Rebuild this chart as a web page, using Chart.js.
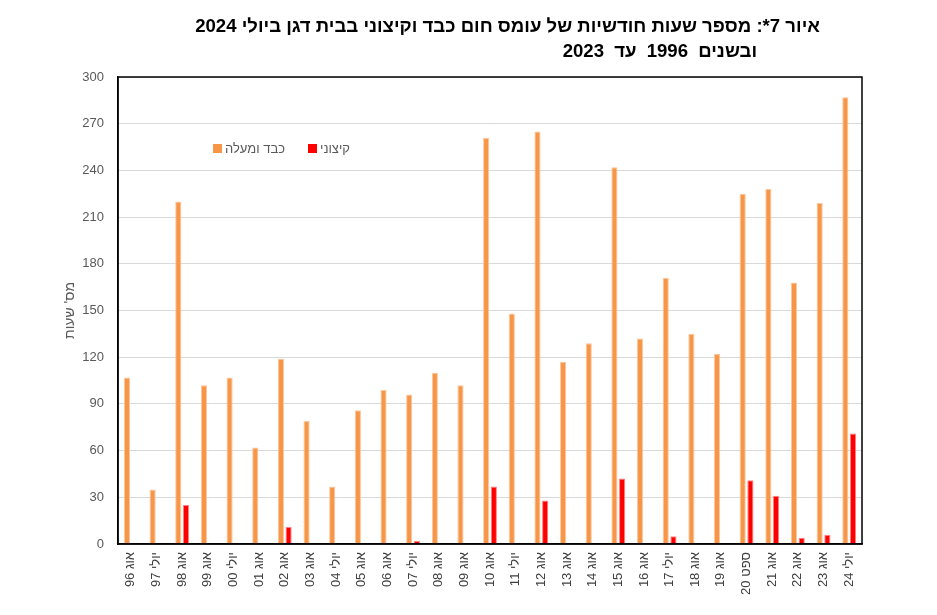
<!DOCTYPE html>
<html>
<head>
<meta charset="utf-8">
<script src="https://cdn.jsdelivr.net/npm/chart.js@4/dist/chart.umd.min.js"></script>
<style>
  body { margin: 0; background: #fff; }
  #wrap { position: relative; width: 937px; height: 615px; }
  .title {
    position: absolute;
    direction: rtl;
    text-align: right;
    font-family: "Liberation Sans", Arial, sans-serif;
    font-weight: bold;
    font-size: 18.6px;
    color: #000;
    white-space: nowrap;
  }
</style>
</head>
<body>
<div id="wrap">
  <canvas id="heatChart" width="937" height="615"></canvas>
  <div class="title" style="right:117px; top:15px;">איור 7*: מספר שעות חודשיות של עומס חום כבד וקיצוני בבית דגן ביולי 2024</div>
  <div class="title" style="right:180px; top:40px; word-spacing:5px;">ובשנים 1996 עד 2023</div>
</div>
<script>
const labels = [
  "אוג 96", "יולי 97", "אוג 98", "אוג 99", "יולי 00", "אוג 01", "אוג 02",
  "אוג 03", "יולי 04", "אוג 05", "אוג 06", "יולי 07", "אוג 08", "אוג 09",
  "אוג 10", "יולי 11", "אוג 12", "אוג 13", "אוג 14", "אוג 15", "אוג 16",
  "יולי 17", "אוג 18", "אוג 19", "ספט 20", "אוג 21", "אוג 22", "אוג 23", "יולי 24"
];
const heavyHours = [
  107, 35, 220, 102, 107, 62, 119, 79, 37, 86, 99, 96, 110, 102,
  261, 148, 265, 117, 129, 242, 132, 171, 135, 122, 225, 228, 168, 219, 287
];
const extremeHours = [
  0, 0, 25, 0, 0, 0, 11, 0, 0, 0, 0, 2, 0, 0,
  37, 0, 28, 0, 0, 42, 0, 5, 0, 0, 41, 31, 4, 6, 71
];
const yTicks = { min: 0, max: 300, step: 30 };

const fontFamily = '"Liberation Sans", Arial, sans-serif';

// box around the plot area
const frame = {
  id: "frame",
  afterDraw(chart) {
    const { ctx, chartArea: a } = chart;
    ctx.save();
    ctx.strokeStyle = "#000";
    ctx.lineWidth = 1.5;
    ctx.strokeRect(a.left, a.top, a.right - a.left, a.bottom - a.top);
    ctx.restore();
  },
};

// legend drawn inside the plot, upper left
const innerLegend = {
  id: "innerLegend",
  afterDraw(chart) {
    const ctx = chart.ctx;
    const spots = [213, 308];
    ctx.save();
    ctx.font = "13px " + fontFamily;
    ctx.textBaseline = "middle";
    ctx.textAlign = "left";
    chart.data.datasets.forEach((ds, i) => {
      const x = spots[i];
      ctx.fillStyle = ds.backgroundColor;
      ctx.fillRect(x, 144, 9, 9);
      ctx.fillStyle = "#595959";
      ctx.fillText(ds.label, x + 12, 149);
    });
    ctx.restore();
  },
};

const ctx = document.getElementById("heatChart").getContext("2d");
new Chart(ctx, {
  type: "bar",
  data: {
    labels: labels,
    datasets: [
      {
        label: "כבד ומעלה",
        data: heavyHours,
        backgroundColor: "#F79646",
        borderColor: "#FBC7A0",
        borderWidth: 1,
      },
      {
        label: "קיצוני",
        data: extremeHours,
        backgroundColor: "#FF0000",
        borderColor: "#FF8080",
        borderWidth: 1,
      },
    ],
  },
  options: {
    responsive: false,
    animation: false,
    datasets: {
      bar: { categoryPercentage: 0.6, barPercentage: 0.8 },
    },
    layout: { padding: { top: 77, right: 75, left: 0, bottom: 0 } },
    plugins: {
      legend: { display: false },
      tooltip: { enabled: false },
    },
    scales: {
      x: {
        grid: { display: false, drawTicks: false },
        border: { color: "#000", width: 1.5 },
        ticks: {
          autoSkip: false,
          maxRotation: 90,
          minRotation: 90,
          padding: 8,
          color: "#404040",
          font: { family: fontFamily, size: 13 },
        },
        afterFit(scale) {
          scale.height = 71;
        },
      },
      y: {
        min: yTicks.min,
        max: yTicks.max,
        grid: { color: "#d9d9d9", lineWidth: 1, drawTicks: false },
        border: { color: "#000", width: 1.5 },
        ticks: {
          stepSize: yTicks.step,
          padding: 14,
          color: "#595959",
          font: { family: fontFamily, size: 13 },
        },
        title: {
          display: true,
          text: "מס' שעות",
          color: "#595959",
          font: { family: fontFamily, size: 14 },
          padding: { top: 62, bottom: 0 },
        },
        afterFit(scale) {
          scale.width = 118;
        },
      },
    },
  },
  plugins: [frame, innerLegend],
});
</script>
</body>
</html>
